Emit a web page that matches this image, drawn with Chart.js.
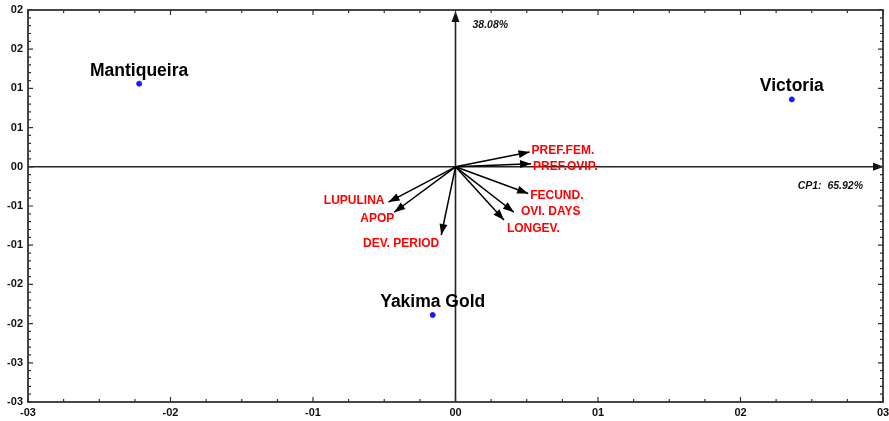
<!DOCTYPE html>
<html>
<head>
<meta charset="utf-8">
<script src="https://cdn.jsdelivr.net/npm/chart.js@4.4.1/dist/chart.umd.min.js"></script>
<style>
  body { margin: 0; background: #fff; }
  #wrap { width: 889px; height: 421px; }
</style>
</head>
<body>
<div id="wrap"><canvas id="biplot"></canvas></div>
<script>
// Cultivares (escores)
const cultivarNames = ["Mantiqueira", "Victoria", "Yakima Gold"];
const cultivarX = [-2.22, 2.36, -0.16];
const cultivarY = [1.06, 0.86, -1.89];

// Variáveis (vetores)
const varNames = ["PREF.FEM.", "PREF.OVIP.", "FECUND.", "OVI. DAYS", "LONGEV.", "LUPULINA", "APOP", "DEV. PERIOD"];
const varX = [0.52, 0.53, 0.51, 0.41, 0.34, -0.47, -0.43, -0.10];
const varY = [0.19, 0.04, -0.34, -0.58, -0.68, -0.45, -0.58, -0.87];

// Rótulos dos eixos
const xTickLabels = ["-03", "-02", "-01", "00", "01", "02", "03"];
const yTickLabels = ["-03", "-03", "-02", "-02", "-01", "-01", "00", "01", "01", "02", "02"];
const axisTitleX = "CP1:  65.92%";
const axisTitleY = "38.08%";

// posição dos rótulos das variáveis (em pixels, a partir da ponta da seta)
const varLabelPos = [
  { dx: 2, dy: -1, align: "left" },
  { dx: 2, dy: 3, align: "left" },
  { dx: 2, dy: 2, align: "left" },
  { dx: 7, dy: -1, align: "left" },
  { dx: 3, dy: 9, align: "left" },
  { dx: -4, dy: -1, align: "right" },
  { dx: 0, dy: 6, align: "right" },
  { dx: -2, dy: 9, align: "right" },
];

const FONT = "'Liberation Sans', Arial, sans-serif";

function arrowHead(ctx, x1, y1, x2, y2, len, half) {
  const a = Math.atan2(y2 - y1, x2 - x1);
  ctx.beginPath();
  ctx.moveTo(x2, y2);
  ctx.lineTo(x2 - len * Math.cos(a) + half * Math.sin(a), y2 - len * Math.sin(a) - half * Math.cos(a));
  ctx.lineTo(x2 - len * Math.cos(a) - half * Math.sin(a), y2 - len * Math.sin(a) + half * Math.cos(a));
  ctx.closePath();
  ctx.fill();
}

// Desenha moldura, eixos com setas, marcas e textos
const biplotPlugin = {
  id: "biplot",
  beforeDatasetsDraw(chart) {
    const { ctx, chartArea: ca, scales: { x, y } } = chart;
    const x0 = x.getPixelForValue(0), y0 = y.getPixelForValue(0);
    ctx.save();
    ctx.strokeStyle = "#222";
    ctx.fillStyle = "#111";
    ctx.lineWidth = 1.6;
    // eixos pela origem
    ctx.beginPath();
    ctx.moveTo(ca.left, y0); ctx.lineTo(ca.right - 4, y0);
    ctx.moveTo(x0, ca.bottom); ctx.lineTo(x0, ca.top + 4);
    ctx.stroke();
    arrowHead(ctx, ca.left, y0, ca.right + 1, y0, 11, 4);
    arrowHead(ctx, x0, ca.bottom, x0, ca.top + 1, 11, 4);
    ctx.restore();
  },
  afterDatasetsDraw(chart) {
    const { ctx, chartArea: ca, scales: { x, y } } = chart;
    const x0 = x.getPixelForValue(0), y0 = y.getPixelForValue(0);
    ctx.save();
    // moldura
    ctx.strokeStyle = "#333";
    ctx.lineWidth = 1.8;
    ctx.strokeRect(ca.left, ca.top, ca.right - ca.left, ca.bottom - ca.top);
    // marcas para dentro
    ctx.lineWidth = 1.2;
    ctx.beginPath();
    for (let v = -3; v <= 3.001; v += 0.25) {
      const px = x.getPixelForValue(v);
      const len = Math.abs(v - Math.round(v)) < 1e-6 ? 5 : 3;
      ctx.moveTo(px, ca.bottom); ctx.lineTo(px, ca.bottom - len);
      ctx.moveTo(px, ca.top); ctx.lineTo(px, ca.top + len);
    }
    for (let v = -3; v <= 2.001; v += 0.1) {
      const py = y.getPixelForValue(v);
      const len = Math.abs(v * 2 - Math.round(v * 2)) < 1e-6 ? 5 : 3;
      ctx.moveTo(ca.left, py); ctx.lineTo(ca.left + len, py);
      ctx.moveTo(ca.right, py); ctx.lineTo(ca.right - len, py);
    }
    ctx.stroke();

    // setas das variáveis
    ctx.fillStyle = "#000";
    varX.forEach((vx, i) => {
      const px = x.getPixelForValue(vx), py = y.getPixelForValue(varY[i]);
      arrowHead(ctx, x0, y0, px, py, 11, 4);
    });
    // rótulos das variáveis
    ctx.font = "bold 12px " + FONT;
    ctx.fillStyle = "#ff0000";
    ctx.textBaseline = "middle";
    varNames.forEach((name, i) => {
      const p = varLabelPos[i];
      const px = x.getPixelForValue(varX[i]), py = y.getPixelForValue(varY[i]);
      ctx.textAlign = p.align;
      ctx.fillText(name, px + p.dx, py + p.dy);
    });
    // rótulos das cultivares
    ctx.font = "bold 17.5px " + FONT;
    ctx.fillStyle = "#000";
    ctx.textAlign = "center";
    cultivarNames.forEach((name, i) => {
      ctx.fillText(name, x.getPixelForValue(cultivarX[i]), y.getPixelForValue(cultivarY[i]) - 13);
    });
    // títulos dos eixos
    ctx.font = "italic bold 10.5px " + FONT;
    ctx.fillStyle = "#111";
    ctx.textAlign = "left";
    ctx.fillText(axisTitleY, x0 + 17, ca.top + 15);
    ctx.textAlign = "right";
    ctx.fillText(axisTitleX, ca.right - 20, y0 + 19);
    ctx.restore();
  }
};

const vectorSets = varNames.map((name, i) => ({
  label: name,
  data: [{ x: 0, y: 0 }, { x: varX[i], y: varY[i] }],
  showLine: true,
  borderColor: "#000",
  borderWidth: 1.5,
  pointRadius: 0,
}));

new Chart(document.getElementById("biplot"), {
  type: "scatter",
  data: {
    datasets: [
      {
        label: "Cultivares",
        data: cultivarX.map((v, i) => ({ x: v, y: cultivarY[i] })),
        backgroundColor: "#1a1aff",
        borderColor: "#1a1aff",
        pointRadius: 2.5,
      },
      ...vectorSets,
    ],
  },
  options: {
    responsive: true,
    maintainAspectRatio: false,
    animation: false,
    layout: { padding: { top: 10, right: 6, left: 0, bottom: 0 } },
    plugins: { legend: { display: false }, tooltip: { enabled: false } },
    scales: {
      x: {
        type: "linear",
        min: -3,
        max: 3,
        grid: { display: false, drawTicks: false, tickLength: 0 },
        border: { display: false },
        ticks: {
          stepSize: 1,
          padding: 4,
          color: "#111",
          font: { family: FONT, size: 11, weight: "bold" },
          maxRotation: 0,
          callback: (v, i) => xTickLabels[i],
        },
        afterFit: (s) => { s.height = 19; s.paddingRight = 0; s.paddingLeft = 0; },
      },
      y: {
        type: "linear",
        min: -3,
        max: 2,
        grid: { display: false, drawTicks: false, tickLength: 0 },
        border: { display: false },
        ticks: {
          stepSize: 0.5,
          padding: 5,
          color: "#111",
          font: { family: FONT, size: 11, weight: "bold" },
          callback: (v, i) => yTickLabels[i],
        },
        afterFit: (s) => { s.width = 28; s.paddingTop = 0; s.paddingBottom = 0; },
      },
    },
  },
  plugins: [biplotPlugin],
});
</script>
</body>
</html>
